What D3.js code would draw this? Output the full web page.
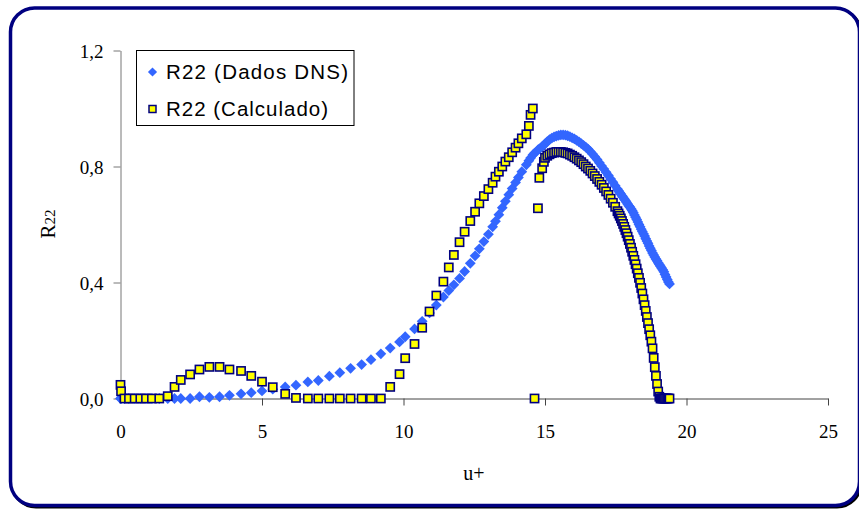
<!DOCTYPE html>
<html><head><meta charset="utf-8">
<script src="https://cdn.jsdelivr.net/npm/d3@7"></script>
<style>
html,body{margin:0;padding:0;background:#fff;}
svg{display:block;}
.serif{font-family:"Liberation Serif","Times New Roman",Times,serif;}
.sans{font-family:"Liberation Sans",Arial,Helvetica,sans-serif;}
</style></head>
<body>
<svg id="chart" width="859" height="509"></svg>
<script>
// u+ values (shared by both series)
const uPlus = [
 0.00,0.02,0.14,0.30,0.50,0.70,0.90,1.11,1.37,1.67,1.91,2.13,2.46,2.79,3.14,3.50,3.85,4.26,4.62,5.00,
 5.38,5.82,6.20,6.62,6.99,7.38,7.75,8.13,8.52,8.85,9.20,9.53,9.86,10.06,10.39,10.66,10.92,11.16,11.41,11.60,
 11.78,11.98,12.16,12.36,12.53,12.68,12.84,13.00,13.15,13.25,13.37,13.49,13.60,13.72,13.84,13.96,14.06,14.18,14.34,14.43,
 14.49,14.57,14.63,14.75,14.80,14.90,14.96,
 15.00,15.08,15.16,15.24,15.32,15.40,15.48,15.56,15.64,15.72,15.80,15.88,15.96,16.04,16.12,16.20,16.28,16.36,16.44,16.52,
 16.60,16.68,16.76,16.84,16.92,17.00,17.08,17.16,17.24,17.32,17.40,17.48,17.56,
 17.60,17.64,17.68,17.72,17.76,17.80,17.84,17.88,17.92,17.96,18.00,18.04,18.08,18.12,18.16,18.20,18.24,18.28,18.32,18.36,
 18.40,18.44,18.48,18.52,18.56,18.60,18.64,18.68,18.72,18.76,18.80,18.84,18.88,18.92,18.96,19.00,19.04,19.08,19.12,19.16,
 19.20,19.24,19.28,19.32,19.36,19.40
];
// R22 (Dados DNS)
const r22DNS = [
 0,0,0,0,0,0,0,0,0,0,0,0,0,0.006,0.004,0.006,0.011,0.016,0.020,0.026,
 0.032,0.040,0.046,0.057,0.062,0.077,0.089,0.104,0.117,0.134,0.154,0.174,0.195,0.213,0.240,0.266,0.295,0.322,0.350,0.372,
 0.392,0.414,0.438,0.466,0.492,0.516,0.541,0.566,0.592,0.611,0.634,0.658,0.680,0.703,0.724,0.745,0.762,0.782,0.806,0.820,
 0.829,0.840,0.846,0.857,0.861,0.869,0.874,
 0.878,0.886,0.893,0.898,0.902,0.905,0.907,0.909,0.909,0.908,0.906,0.903,0.899,0.895,0.890,0.885,0.879,0.873,0.867,0.860,
 0.852,0.843,0.834,0.824,0.813,0.802,0.791,0.780,0.769,0.757,0.746,0.734,0.722,
 0.716,0.710,0.705,0.699,0.694,0.688,0.683,0.677,0.671,0.665,0.660,0.654,0.648,0.641,0.633,0.625,0.617,0.609,0.600,0.592,
 0.584,0.576,0.568,0.560,0.551,0.543,0.535,0.526,0.518,0.510,0.502,0.495,0.488,0.481,0.475,0.468,0.462,0.456,0.450,0.444,
 0.437,0.428,0.419,0.410,0.402,0.395
];
// R22 (Calculado)
const r22Calc = [
 0.047,0.025,0,0,0,0,0,0,0,0.008,0.040,0.064,0.083,0.100,0.109,0.109,0.100,0.095,0.078,0.058,
 0.039,0.016,0.002,0,0,0,0,0,0,0,0,0.040,0.084,0.139,0.188,0.244,0.300,0.355,0.403,0.452,
 0.495,0.539,0.575,0.612,0.644,0.673,0.698,0.722,0.744,0.765,0.782,0.800,0.817,0.832,0.849,0.865,0.880,0.897,0.911,0.940,
 0.978,1.000,0.000,0.656,0.761,0.794,0.816,
 0.830,0.837,0.842,0.846,0.848,0.850,0.850,0.850,0.849,0.847,0.845,0.841,0.837,0.832,0.827,0.821,0.815,0.808,0.800,0.793,
 0.785,0.776,0.767,0.757,0.747,0.737,0.726,0.714,0.702,0.689,0.675,0.661,0.646,
 0.638,0.630,0.621,0.612,0.602,0.592,0.581,0.570,0.558,0.546,0.533,0.520,0.506,0.492,0.478,0.463,0.448,0.432,0.416,0.399,
 0.381,0.362,0.342,0.322,0.302,0.281,0.260,0.239,0.218,0.196,0.173,0.140,0.108,0.078,0.050,0.024,0.006,0,0,0,
 0,0,0,0,0,0
];
const xTicks = [0,5,10,15,20,25];
const yTicks = [0,0.4,0.8,1.2];
const seriesNames = ["R22 (Dados DNS)","R22 (Calculado)"];

const svg = d3.select("#chart");
// frame with shadow
svg.append("rect").attr("x",12).attr("y",9.5).attr("width",849).attr("height",497.5)
  .attr("rx",24).attr("fill","none").attr("stroke","#000").attr("stroke-width",3);
svg.append("rect").attr("x",10.5).attr("y",8).attr("width",849).attr("height",497.5)
  .attr("rx",24).attr("fill","#fff").attr("stroke","#000080").attr("stroke-width",3.5);

const x = d3.scaleLinear().domain([0,25]).range([120.5,828]);
const y = d3.scaleLinear().domain([0,1.2]).range([398.5,50.5]);

// y axis
const ya = svg.append("g").attr("transform","translate(120.5,0)")
  .call(d3.axisLeft(y).tickValues(yTicks).tickSize(7).tickSizeOuter(0)
    .tickFormat(d=>d.toFixed(1).replace(".",",")));
ya.attr("font-family",null).attr("font-size",null);
ya.select(".domain").attr("stroke","#777");
ya.selectAll(".tick line").attr("stroke","#777");
ya.selectAll("text").attr("class","serif").attr("x",-17).attr("dy",null).attr("y",6.5)
  .attr("font-size",19).attr("fill","#000");

// x axis
const xa = svg.append("g").attr("transform","translate(0,398.5)")
  .call(d3.axisBottom(x).tickValues(xTicks).tickSize(7).tickSizeOuter(0));
xa.attr("font-family",null).attr("font-size",null);
xa.select(".domain").attr("stroke","#444");
xa.selectAll(".tick line").attr("stroke","#444").filter(d=>d===0).remove();
xa.selectAll("text").attr("class","serif").attr("dy",null).attr("y",39.5)
  .attr("font-size",19).attr("fill","#000");

// axis titles
svg.append("text").attr("class","serif").attr("x",474).attr("y",480).attr("text-anchor","middle")
  .attr("font-size",20).text("u+");
const yt = svg.append("text").attr("class","serif").attr("transform","translate(55,224) rotate(-90)").attr("text-anchor","middle");
yt.append("tspan").attr("font-size",21).text("R");
yt.append("tspan").attr("font-size",15).text("22");

const pts = uPlus.map((u,i)=>({u, dns:r22DNS[i], calc:r22Calc[i]}));
const diamond = r => `M0,${-r}L${r},0L0,${r}L${-r},0Z`;

// DNS diamonds
svg.append("g").selectAll("path").data(pts).join("path")
  .attr("d",diamond(5.4))
  .attr("transform",d=>`translate(${x(d.u)},${y(d.dns)})`)
  .attr("fill","#3366FF");

// Calculated squares
svg.append("g").selectAll("rect").data(pts).join("rect")
  .attr("x",d=>x(d.u)-4.1).attr("y",d=>y(d.calc)-4.1)
  .attr("width",8.2).attr("height",8.2)
  .attr("fill","#FFFF00").attr("stroke","#000080").attr("stroke-width",1.6);

// legend
const lg = svg.append("g");
lg.append("rect").attr("x",136.5).attr("y",50.5).attr("width",217.5).attr("height",75)
  .attr("fill","#fff").attr("stroke","#000").attr("stroke-width",1);
lg.append("path").attr("d",diamond(4.6)).attr("transform","translate(152.5,72)").attr("fill","#3366FF");
lg.append("rect").attr("x",149).attr("y",105.5).attr("width",7).attr("height",7)
  .attr("fill","#FFFF00").attr("stroke","#000080").attr("stroke-width",1.5);
lg.append("text").attr("class","sans").attr("x",166).attr("y",78.5)
  .attr("font-size",20.5).attr("textLength",182).attr("lengthAdjust","spacing").text(seriesNames[0]);
lg.append("text").attr("class","sans").attr("x",166).attr("y",115.5)
  .attr("font-size",20.5).attr("textLength",162).attr("lengthAdjust","spacing").text(seriesNames[1]);
</script>
</body></html>
